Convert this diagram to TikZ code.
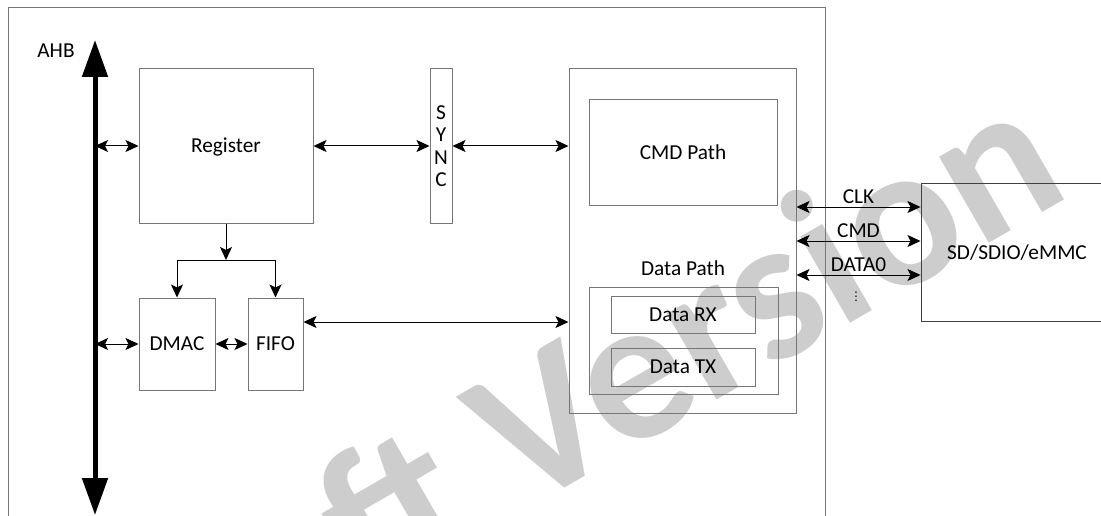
\documentclass[tikz,border=0pt]{standalone}
\usepackage{fontspec}
\setmainfont{Carlito}
\newfontfamily\wmfont{Carlito}
\newfontfamily\symfont{DejaVu Sans}
\usetikzlibrary{arrows.meta}
\definecolor{boxgray}{RGB}{118,118,118}
\definecolor{wmgray}{RGB}{205,205,205}
\tikzset{
  x=1pt, y=-1pt,
  >={Stealth[length=13pt,width=12pt,inset=3pt]},
  lblfont/.style={font=\fontsize{21.3}{22.5}\selectfont, inner sep=0pt},
  lbl/.style={lblfont, text height=13.6pt, text depth=0pt},
  boxline/.style={draw=boxgray, line width=1pt, rectangle},
  blk/.style={boxline, lbl},
  conn/.style={draw=black, line width=1pt},
  sig/.style={lbl, above=3pt},
}
\begin{document}
\begin{tikzpicture}
\useasboundingbox (0,0) rectangle (1101,516);
\clip (0,0) rectangle (1101,516);
\fill[white] (0,0) rectangle (1101,516);
% watermark
\node[wmgray, font=\wmfont\bfseries\fontsize{205}{205}\selectfont, rotate=30, anchor=base, inner sep=0pt] (wm) at (593,472) {Draft Version};
% outer chip boundary
\draw[boxgray, line width=1pt] (8,540) -- (8,8) -- (825,8) -- (825,540);
% AHB bus
\coordinate (bustop) at (95,40);
\coordinate (busbot) at (95,515);
\draw[line width=5pt, {Triangle[width=25pt,length=37pt]}-{Triangle[width=25pt,length=37pt]}] (bustop) -- (busbot);
\node[lbl] (ahb) at (56,51) {AHB};
% blocks
\node[blk, minimum width=174pt, minimum height=154pt] (reg) at (226,146) {Register};
\node[boxline, lblfont, minimum width=22pt, minimum height=154pt, align=center] (sync) at (441,146) {S\\Y\\N\\C};
\node[blk, minimum width=227pt, minimum height=344pt] (ctrl) at (682.5,241) {};
\node[blk, minimum width=188pt, minimum height=105pt] (cmd) at (683,152.5) {CMD Path};
\node[lbl] (dpl) at (683,269) {Data Path};
\node[blk, minimum width=189pt, minimum height=107pt] (dp) at (683.5,340.5) {};
\node[blk, minimum width=144pt, minimum height=37pt] (rx) at (683,314.5) {Data RX};
\node[blk, minimum width=144pt, minimum height=38pt] (tx) at (683,367) {Data TX};
\node[blk, minimum width=76pt, minimum height=92pt] (dmac) at (177,344) {DMAC};
\node[blk, minimum width=55pt, minimum height=92pt] (fifo) at (275.5,344) {FIFO};
\node[blk, draw=black!75, minimum width=192pt, minimum height=137pt] (sd) at (1017,252.5) {SD/SDIO/eMMC};
% connectors
\draw[conn, <->] (bustop |- reg.west) -- (reg.west);
\draw[conn, <->] (reg.east) -- (sync.west);
\draw[conn, <->] (sync.east) -- (sync.east -| ctrl.west);
\coordinate (split) at (226,260);
\draw[conn, ->] (reg.south) -- (split);
\draw[conn, ->] (split) -| (dmac.north);
\draw[conn, ->] (split) -| (fifo.north);
\draw[conn, <->] (bustop |- dmac.west) -- (dmac.west);
\draw[conn, <->] (dmac.east) -- (fifo.west);
\draw[conn, <->] ([yshift=22pt]fifo.east) -- ([yshift=22pt]fifo.east -| ctrl.west);
\draw[conn, <->] ([yshift=34pt]ctrl.east) -- ([yshift=34pt]ctrl.east -| sd.west) node[sig, midway] (clk) {CLK};
\draw[conn, <->] (ctrl.east) -- (ctrl.east -| sd.west) node[sig, midway] (cmdl) {CMD};
\draw[conn, <->] ([yshift=-34pt]ctrl.east) -- ([yshift=-34pt]ctrl.east -| sd.west) node[sig, midway] (data0) {DATA0};
\node[inner sep=0pt, font=\symfont\fontsize{12}{12}\selectfont] (dots) at (856,297) {⋮};
\end{tikzpicture}
\end{document}
